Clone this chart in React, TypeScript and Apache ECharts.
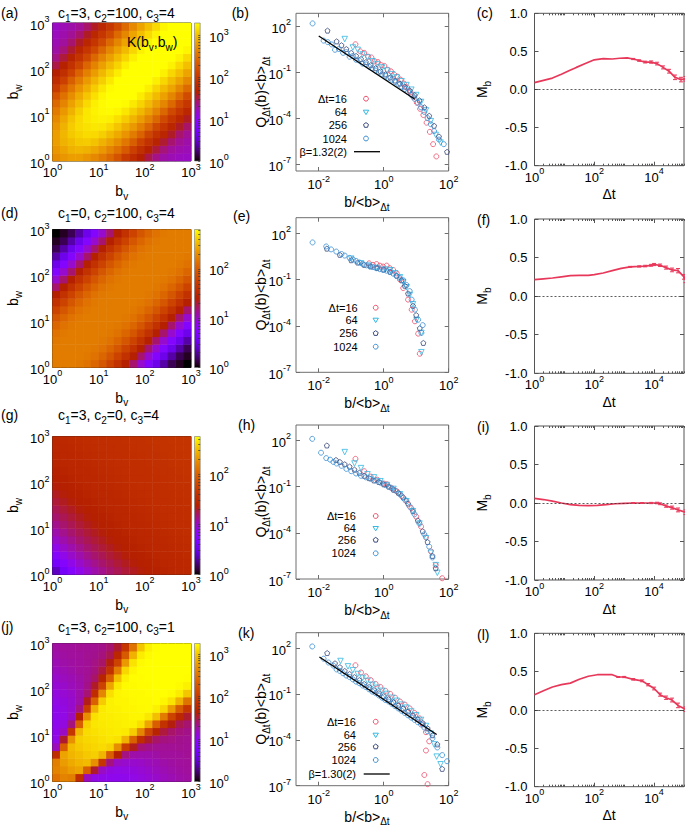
import React, { useEffect, useRef } from "react";
import * as echarts from "echarts";

const FONT = "'Liberation Sans', Arial, Helvetica, sans-serif";
const INK = "#000";
const FRAME = "#6e6e6e";
const RED = "#e8385a";

// ---------------- kernel maps: log10 K(bv,bw) on 18x18 bins (rows = bw bin, cols = bv bin) -------------
const cellCentres = ["0.083", "0.25", "0.417", "0.583", "0.75", "0.917", "1.083", "1.25", "1.417", "1.583", "1.75", "1.917", "2.083", "2.25", "2.417", "2.583", "2.75", "2.917"];
const heatTicks = [0, 1, 2, 3];

const paramsA = [3, 100, 4];
const paramsD = [0, 100, 4];
const paramsG = [3, 0, 4];
const paramsJ = [3, 100, 1];
const cbMaxA = 3.3;
const cbMaxD = 2.8;
const cbMaxG = 2.75;
const cbMaxJ = 3.25;

const kernelA = [
  [2.69, 2.76, 2.81, 2.81, 2.75, 2.68, 2.58, 2.45, 2.27, 2.03, 1.84, 1.66, 1.5, 1.36, 1.28, 1.24, 1.21, 1.19],
  [2.76, 2.85, 2.93, 2.95, 2.93, 2.86, 2.77, 2.65, 2.51, 2.33, 2.08, 1.88, 1.69, 1.53, 1.39, 1.3, 1.26, 1.23],
  [2.81, 2.93, 2.99, 3.05, 3.06, 3.02, 2.93, 2.83, 2.71, 2.56, 2.37, 2.11, 1.91, 1.72, 1.55, 1.41, 1.32, 1.27],
  [2.81, 2.95, 3.05, 3.1, 3.14, 3.13, 3.08, 2.99, 2.88, 2.75, 2.59, 2.4, 2.14, 1.93, 1.74, 1.57, 1.42, 1.32],
  [2.75, 2.93, 3.06, 3.14, 3.17, 3.2, 3.19, 3.13, 3.03, 2.91, 2.78, 2.62, 2.42, 2.16, 1.95, 1.75, 1.57, 1.43],
  [2.68, 2.86, 3.02, 3.13, 3.2, 3.23, 3.25, 3.23, 3.16, 3.06, 2.94, 2.8, 2.64, 2.44, 2.17, 1.95, 1.76, 1.58],
  [2.58, 2.77, 2.93, 3.08, 3.19, 3.25, 3.27, 3.28, 3.26, 3.19, 3.08, 2.96, 2.82, 2.65, 2.44, 2.18, 1.96, 1.76],
  [2.45, 2.65, 2.83, 2.99, 3.13, 3.23, 3.28, 3.3, 3.31, 3.28, 3.21, 3.1, 2.97, 2.82, 2.66, 2.45, 2.18, 1.97],
  [2.27, 2.51, 2.71, 2.88, 3.03, 3.16, 3.26, 3.31, 3.32, 3.33, 3.3, 3.22, 3.1, 2.98, 2.83, 2.66, 2.46, 2.19],
  [2.03, 2.33, 2.56, 2.75, 2.91, 3.06, 3.19, 3.28, 3.33, 3.34, 3.34, 3.3, 3.23, 3.11, 2.98, 2.84, 2.67, 2.46],
  [1.84, 2.08, 2.37, 2.59, 2.78, 2.94, 3.08, 3.21, 3.3, 3.34, 3.34, 3.35, 3.31, 3.23, 3.12, 2.99, 2.84, 2.68],
  [1.66, 1.88, 2.11, 2.4, 2.62, 2.8, 2.96, 3.1, 3.22, 3.3, 3.35, 3.35, 3.35, 3.32, 3.24, 3.12, 3.0, 2.85],
  [1.5, 1.69, 1.91, 2.14, 2.42, 2.64, 2.82, 2.97, 3.1, 3.23, 3.31, 3.35, 3.36, 3.36, 3.32, 3.25, 3.13, 3.0],
  [1.36, 1.53, 1.72, 1.93, 2.16, 2.44, 2.65, 2.82, 2.98, 3.11, 3.23, 3.32, 3.36, 3.36, 3.37, 3.33, 3.25, 3.13],
  [1.28, 1.39, 1.55, 1.74, 1.95, 2.17, 2.44, 2.66, 2.83, 2.98, 3.12, 3.24, 3.32, 3.37, 3.37, 3.37, 3.33, 3.26],
  [1.24, 1.3, 1.41, 1.57, 1.75, 1.95, 2.18, 2.45, 2.66, 2.84, 2.99, 3.12, 3.25, 3.33, 3.37, 3.37, 3.38, 3.34],
  [1.21, 1.26, 1.32, 1.42, 1.57, 1.76, 1.96, 2.18, 2.46, 2.67, 2.84, 3.0, 3.13, 3.25, 3.33, 3.38, 3.38, 3.38],
  [1.19, 1.23, 1.27, 1.32, 1.43, 1.58, 1.76, 1.97, 2.19, 2.46, 2.68, 2.85, 3.0, 3.13, 3.26, 3.34, 3.38, 3.38],
];
const kernelD = [
  [2.2, 2.2, 2.2, 2.18, 2.14, 2.06, 1.95, 1.79, 1.62, 1.4, 1.2, 0.98, 0.75, 0.52, 0.32, 0.15, 0.06, 0.0],
  [2.2, 2.2, 2.2, 2.2, 2.18, 2.14, 2.06, 1.95, 1.79, 1.62, 1.4, 1.2, 0.98, 0.75, 0.52, 0.32, 0.15, 0.06],
  [2.2, 2.2, 2.2, 2.2, 2.2, 2.18, 2.14, 2.06, 1.95, 1.79, 1.62, 1.4, 1.2, 0.98, 0.75, 0.52, 0.32, 0.15],
  [2.18, 2.2, 2.2, 2.2, 2.2, 2.2, 2.18, 2.14, 2.06, 1.95, 1.79, 1.62, 1.4, 1.2, 0.98, 0.75, 0.52, 0.32],
  [2.14, 2.18, 2.2, 2.2, 2.2, 2.2, 2.2, 2.18, 2.14, 2.06, 1.95, 1.79, 1.62, 1.4, 1.2, 0.98, 0.75, 0.52],
  [2.06, 2.14, 2.18, 2.2, 2.2, 2.2, 2.2, 2.2, 2.18, 2.14, 2.06, 1.95, 1.79, 1.62, 1.4, 1.2, 0.98, 0.75],
  [1.95, 2.06, 2.14, 2.18, 2.2, 2.2, 2.2, 2.2, 2.2, 2.18, 2.14, 2.06, 1.95, 1.79, 1.62, 1.4, 1.2, 0.98],
  [1.79, 1.95, 2.06, 2.14, 2.18, 2.2, 2.2, 2.2, 2.2, 2.2, 2.18, 2.14, 2.06, 1.95, 1.79, 1.62, 1.4, 1.2],
  [1.62, 1.79, 1.95, 2.06, 2.14, 2.18, 2.2, 2.2, 2.2, 2.2, 2.2, 2.18, 2.14, 2.06, 1.95, 1.79, 1.62, 1.4],
  [1.4, 1.62, 1.79, 1.95, 2.06, 2.14, 2.18, 2.2, 2.2, 2.2, 2.2, 2.2, 2.18, 2.14, 2.06, 1.95, 1.79, 1.62],
  [1.2, 1.4, 1.62, 1.79, 1.95, 2.06, 2.14, 2.18, 2.2, 2.2, 2.2, 2.2, 2.2, 2.18, 2.14, 2.06, 1.95, 1.79],
  [0.98, 1.2, 1.4, 1.62, 1.79, 1.95, 2.06, 2.14, 2.18, 2.2, 2.2, 2.2, 2.2, 2.2, 2.18, 2.14, 2.06, 1.95],
  [0.75, 0.98, 1.2, 1.4, 1.62, 1.79, 1.95, 2.06, 2.14, 2.18, 2.2, 2.2, 2.2, 2.2, 2.2, 2.18, 2.14, 2.06],
  [0.52, 0.75, 0.98, 1.2, 1.4, 1.62, 1.79, 1.95, 2.06, 2.14, 2.18, 2.2, 2.2, 2.2, 2.2, 2.2, 2.18, 2.14],
  [0.32, 0.52, 0.75, 0.98, 1.2, 1.4, 1.62, 1.79, 1.95, 2.06, 2.14, 2.18, 2.2, 2.2, 2.2, 2.2, 2.2, 2.18],
  [0.15, 0.32, 0.52, 0.75, 0.98, 1.2, 1.4, 1.62, 1.79, 1.95, 2.06, 2.14, 2.18, 2.2, 2.2, 2.2, 2.2, 2.2],
  [0.06, 0.15, 0.32, 0.52, 0.75, 0.98, 1.2, 1.4, 1.62, 1.79, 1.95, 2.06, 2.14, 2.18, 2.2, 2.2, 2.2, 2.2],
  [0.0, 0.06, 0.15, 0.32, 0.52, 0.75, 0.98, 1.2, 1.4, 1.62, 1.79, 1.95, 2.06, 2.14, 2.18, 2.2, 2.2, 2.2],
];
const kernelG = [
  [0.38, 0.6, 0.75, 0.87, 0.97, 1.05, 1.12, 1.18, 1.23, 1.28, 1.32, 1.36, 1.39, 1.41, 1.43, 1.45, 1.47, 1.48],
  [0.6, 0.75, 0.87, 0.97, 1.05, 1.12, 1.18, 1.23, 1.28, 1.32, 1.36, 1.39, 1.41, 1.43, 1.45, 1.47, 1.48, 1.49],
  [0.75, 0.87, 0.97, 1.05, 1.12, 1.18, 1.23, 1.28, 1.32, 1.36, 1.39, 1.41, 1.43, 1.45, 1.47, 1.48, 1.49, 1.5],
  [0.87, 0.97, 1.05, 1.12, 1.18, 1.23, 1.28, 1.32, 1.36, 1.39, 1.41, 1.43, 1.45, 1.47, 1.48, 1.49, 1.5, 1.52],
  [0.97, 1.05, 1.12, 1.18, 1.23, 1.28, 1.32, 1.36, 1.39, 1.41, 1.43, 1.45, 1.47, 1.48, 1.49, 1.5, 1.52, 1.53],
  [1.05, 1.12, 1.18, 1.23, 1.28, 1.32, 1.36, 1.39, 1.41, 1.43, 1.45, 1.47, 1.48, 1.49, 1.5, 1.52, 1.53, 1.54],
  [1.12, 1.18, 1.23, 1.28, 1.32, 1.36, 1.39, 1.41, 1.43, 1.45, 1.47, 1.48, 1.49, 1.5, 1.52, 1.53, 1.54, 1.55],
  [1.18, 1.23, 1.28, 1.32, 1.36, 1.39, 1.41, 1.43, 1.45, 1.47, 1.48, 1.49, 1.5, 1.52, 1.53, 1.54, 1.55, 1.56],
  [1.23, 1.28, 1.32, 1.36, 1.39, 1.41, 1.43, 1.45, 1.47, 1.48, 1.49, 1.5, 1.52, 1.53, 1.54, 1.55, 1.56, 1.56],
  [1.28, 1.32, 1.36, 1.39, 1.41, 1.43, 1.45, 1.47, 1.48, 1.49, 1.5, 1.52, 1.53, 1.54, 1.55, 1.56, 1.56, 1.57],
  [1.32, 1.36, 1.39, 1.41, 1.43, 1.45, 1.47, 1.48, 1.49, 1.5, 1.52, 1.53, 1.54, 1.55, 1.56, 1.56, 1.57, 1.58],
  [1.36, 1.39, 1.41, 1.43, 1.45, 1.47, 1.48, 1.49, 1.5, 1.52, 1.53, 1.54, 1.55, 1.56, 1.56, 1.57, 1.58, 1.58],
  [1.39, 1.41, 1.43, 1.45, 1.47, 1.48, 1.49, 1.5, 1.52, 1.53, 1.54, 1.55, 1.56, 1.56, 1.57, 1.58, 1.58, 1.59],
  [1.41, 1.43, 1.45, 1.47, 1.48, 1.49, 1.5, 1.52, 1.53, 1.54, 1.55, 1.56, 1.56, 1.57, 1.58, 1.58, 1.59, 1.6],
  [1.43, 1.45, 1.47, 1.48, 1.49, 1.5, 1.52, 1.53, 1.54, 1.55, 1.56, 1.56, 1.57, 1.58, 1.58, 1.59, 1.6, 1.6],
  [1.45, 1.47, 1.48, 1.49, 1.5, 1.52, 1.53, 1.54, 1.55, 1.56, 1.56, 1.57, 1.58, 1.58, 1.59, 1.6, 1.6, 1.61],
  [1.47, 1.48, 1.49, 1.5, 1.52, 1.53, 1.54, 1.55, 1.56, 1.56, 1.57, 1.58, 1.58, 1.59, 1.6, 1.6, 1.61, 1.62],
  [1.48, 1.49, 1.5, 1.52, 1.53, 1.54, 1.55, 1.56, 1.56, 1.57, 1.58, 1.58, 1.59, 1.6, 1.6, 1.61, 1.62, 1.62],
];
const kernelJ = [
  [2.48, 2.6, 2.57, 1.82, 1.2, 1.05, 1.03, 1.01, 1.0, 1.02, 1.05, 1.08, 1.12, 1.15, 1.19, 1.22, 1.25, 1.27],
  [2.6, 2.68, 2.76, 2.8, 2.33, 1.53, 1.17, 1.07, 1.05, 1.06, 1.09, 1.12, 1.15, 1.19, 1.22, 1.25, 1.27, 1.28],
  [2.57, 2.76, 2.84, 2.9, 2.93, 2.69, 1.92, 1.36, 1.17, 1.14, 1.14, 1.16, 1.2, 1.22, 1.25, 1.27, 1.28, 1.29],
  [1.82, 2.8, 2.9, 2.95, 3.0, 3.03, 2.91, 2.33, 1.65, 1.35, 1.25, 1.24, 1.24, 1.26, 1.28, 1.28, 1.29, 1.3],
  [1.2, 2.33, 2.93, 3.0, 3.04, 3.07, 3.09, 3.04, 2.67, 2.01, 1.57, 1.38, 1.33, 1.31, 1.3, 1.3, 1.31, 1.3],
  [1.05, 1.53, 2.69, 3.03, 3.07, 3.09, 3.12, 3.14, 3.12, 2.88, 2.35, 1.81, 1.54, 1.41, 1.36, 1.34, 1.32, 1.31],
  [1.03, 1.17, 1.92, 2.91, 3.09, 3.12, 3.14, 3.16, 3.17, 3.16, 3.02, 2.62, 2.07, 1.69, 1.5, 1.41, 1.36, 1.33],
  [1.01, 1.07, 1.36, 2.33, 3.04, 3.14, 3.16, 3.17, 3.18, 3.19, 3.19, 3.11, 2.81, 2.33, 1.88, 1.6, 1.46, 1.39],
  [1.0, 1.05, 1.17, 1.65, 2.67, 3.12, 3.17, 3.18, 3.19, 3.2, 3.21, 3.21, 3.15, 2.96, 2.55, 2.08, 1.74, 1.53],
  [1.02, 1.06, 1.14, 1.35, 2.01, 2.88, 3.16, 3.19, 3.2, 3.21, 3.21, 3.22, 3.23, 3.19, 3.07, 2.74, 2.29, 1.92],
  [1.05, 1.09, 1.14, 1.25, 1.57, 2.35, 3.02, 3.19, 3.21, 3.21, 3.22, 3.23, 3.23, 3.24, 3.21, 3.13, 2.88, 2.49],
  [1.08, 1.12, 1.16, 1.24, 1.38, 1.81, 2.62, 3.11, 3.21, 3.22, 3.23, 3.23, 3.24, 3.24, 3.25, 3.23, 3.17, 2.99],
  [1.12, 1.15, 1.2, 1.24, 1.33, 1.54, 2.07, 2.81, 3.15, 3.23, 3.23, 3.24, 3.24, 3.25, 3.25, 3.25, 3.23, 3.19],
  [1.15, 1.19, 1.22, 1.26, 1.31, 1.41, 1.69, 2.33, 2.96, 3.19, 3.24, 3.24, 3.25, 3.25, 3.25, 3.25, 3.25, 3.24],
  [1.19, 1.22, 1.25, 1.28, 1.3, 1.36, 1.5, 1.88, 2.55, 3.07, 3.21, 3.25, 3.25, 3.25, 3.25, 3.25, 3.25, 3.25],
  [1.22, 1.25, 1.27, 1.28, 1.3, 1.34, 1.41, 1.6, 2.08, 2.74, 3.13, 3.23, 3.25, 3.25, 3.25, 3.25, 3.25, 3.25],
  [1.25, 1.27, 1.28, 1.29, 1.31, 1.32, 1.36, 1.46, 1.74, 2.29, 2.88, 3.17, 3.23, 3.25, 3.25, 3.25, 3.25, 3.25],
  [1.27, 1.28, 1.29, 1.3, 1.3, 1.31, 1.33, 1.39, 1.53, 1.92, 2.49, 2.99, 3.19, 3.24, 3.25, 3.25, 3.25, 3.25],
];

// ---------------- scaled distributions: [log10 b/<b>, log10 Q<b>] -------------
const scatXTicks = [-2, 0, 2];
const scatYTicks = [-7, -4, -1, 2];
const dtLabels = ["Δt=16", "64", "256", "1024"];

const bS16 = [[-0.87, 0.81], [-0.72, 0.35], [-0.6, 0.25], [-0.48, 0.0], [-0.38, -0.05], [-0.28, -0.3], [-0.18, -0.35], [-0.08, -0.55], [0.02, -0.6], [0.12, -0.85], [0.22, -0.95], [0.32, -1.15], [0.42, -1.3], [0.52, -1.5], [0.62, -1.75], [0.72, -2.0], [0.82, -2.3], [0.92, -2.65], [1.02, -3.0], [1.12, -3.4], [1.22, -3.8], [1.32, -4.3], [1.42, -4.9], [1.52, -5.7], [1.62, -6.5]];
const bS64 = [[-1.2, 1.15], [-0.95, 0.6], [-0.8, 0.45], [-0.65, 0.15], [-0.5, -0.05], [-0.35, -0.3], [-0.2, -0.5], [-0.05, -0.7], [0.1, -0.9], [0.25, -1.15], [0.4, -1.35], [0.55, -1.6], [0.7, -1.85], [0.85, -2.15], [1.0, -2.5], [1.15, -2.95], [1.3, -3.5], [1.45, -4.2], [1.6, -5.1], [1.75, -5.6]];
const bS256 = [[-1.73, 1.7], [-1.45, 1.0], [-1.3, 0.75], [-1.15, 0.5], [-1.0, 0.25], [-0.85, 0.05], [-0.7, -0.15], [-0.55, -0.35], [-0.4, -0.55], [-0.25, -0.75], [-0.1, -0.95], [0.05, -1.15], [0.2, -1.35], [0.35, -1.55], [0.5, -1.75], [0.65, -1.95], [0.8, -2.2], [0.95, -2.5], [1.1, -2.85], [1.25, -3.3], [1.4, -3.85], [1.55, -4.5], [1.7, -5.2], [1.95, -6.2]];
const bS1024 = [[-2.19, 2.17], [-1.85, 1.05], [-1.72, 0.95], [-1.6, 0.8], [-1.5, 0.45], [-1.38, 0.5], [-1.25, 0.25], [-1.15, 0.3], [-1.05, 0.0], [-0.95, 0.05], [-0.85, -0.2], [-0.75, -0.25], [-0.65, -0.45], [-0.55, -0.5], [-0.45, -0.65], [-0.35, -0.75], [-0.25, -0.9], [-0.15, -1.0], [-0.05, -1.15], [0.05, -1.25], [0.15, -1.4], [0.25, -1.5], [0.35, -1.65], [0.45, -1.8], [0.55, -1.95], [0.65, -2.1], [0.75, -2.3], [0.85, -2.5], [0.95, -2.75], [1.05, -3.0], [1.15, -3.3], [1.25, -3.6], [1.35, -4.0], [1.45, -4.4], [1.55, -4.85], [1.7, -5.4], [1.85, -5.7]];
const bFit = [[-2.0, 1.35], [0.96, -2.77]];

const eS16 = [[-0.45, 0.05], [-0.33, -0.05], [-0.22, 0.0], [-0.12, -0.1], [-0.02, -0.16], [0.09, -0.1], [0.19, -0.27], [0.29, -0.38], [0.4, -0.6], [0.5, -1.0], [0.6, -1.55], [0.75, -2.3], [0.86, -2.95], [0.96, -3.7], [1.06, -4.5], [1.11, -5.8]];
const eS64 = [[-1.0, 0.35], [-0.7, 0.05], [-0.45, -0.1], [-0.2, -0.25], [0.05, -0.35], [0.2, -0.4], [0.35, -0.6], [0.5, -0.85], [0.6, -1.15], [0.7, -1.5], [0.8, -2.0], [0.9, -2.6], [1.01, -3.6], [1.16, -4.45], [1.16, -5.7]];
const eS256 = [[-1.75, 1.0], [-1.35, 0.6], [-1.0, 0.25], [-0.8, 0.1], [-0.6, -0.05], [-0.4, -0.15], [-0.2, -0.25], [0.0, -0.35], [0.2, -0.5], [0.4, -0.75], [0.55, -1.05], [0.65, -1.4], [0.75, -1.9], [0.9, -2.7], [1.0, -3.3], [1.11, -4.15], [1.22, -5.1]];
const eS1024 = [[-2.19, 1.4], [-1.77, 1.14], [-1.62, 0.95], [-1.46, 0.81], [-1.3, 0.65], [-1.2, 0.55], [-1.05, 0.4], [-0.95, 0.3], [-0.85, 0.2], [-0.75, 0.1], [-0.64, 0.0], [-0.53, -0.08], [-0.43, -0.15], [-0.33, -0.2], [-0.23, -0.27], [-0.12, -0.33], [-0.02, -0.38], [0.09, -0.43], [0.19, -0.5], [0.29, -0.62], [0.39, -0.76], [0.5, -0.9], [0.6, -1.05], [0.7, -1.35], [0.8, -1.75], [0.86, -2.3], [0.96, -2.95], [1.06, -3.6], [1.16, -4.45], [1.2, -3.95]];

const hS16 = [[-0.87, 0.8], [-0.6, 0.0], [-0.4, -0.35], [-0.2, -0.55], [0.0, -0.8], [0.1, -0.85], [0.25, -1.1], [0.4, -1.3], [0.55, -1.6], [0.7, -1.95], [0.85, -2.4], [1.0, -2.95], [1.15, -3.6], [1.3, -4.3], [1.45, -5.2], [1.6, -6.1], [1.8, -6.95]];
const hS64 = [[-1.2, 1.24], [-0.9, 0.5], [-0.7, 0.2], [-0.5, -0.2], [-0.3, -0.4], [-0.1, -0.65], [0.1, -0.9], [0.3, -1.15], [0.5, -1.5], [0.7, -1.95], [0.9, -2.6], [1.1, -3.4], [1.3, -4.35], [1.45, -5.3], [1.6, -6.1], [1.65, -6.6]];
const hS256 = [[-1.75, 1.67], [-1.47, 0.73], [-1.35, 0.6], [-1.2, 0.45], [-1.05, 0.3], [-0.9, 0.1], [-0.75, -0.1], [-0.6, -0.3], [-0.45, -0.45], [-0.3, -0.6], [-0.15, -0.7], [0.0, -0.85], [0.15, -1.0], [0.3, -1.2], [0.45, -1.4], [0.6, -1.7], [0.75, -2.1], [0.9, -2.6], [1.05, -3.2], [1.2, -3.9], [1.35, -4.6], [1.5, -5.5], [1.6, -6.3]];
const hS1024 = [[-2.2, 2.1], [-1.93, 1.2], [-1.77, 0.85], [-1.65, 0.75], [-1.55, 0.6], [-1.45, 0.5], [-1.3, 0.35], [-1.15, 0.15], [-1.0, 0.0], [-0.85, -0.15], [-0.7, -0.3], [-0.55, -0.4], [-0.4, -0.5], [-0.25, -0.6], [-0.1, -0.75], [0.05, -0.9], [0.2, -1.05], [0.35, -1.25], [0.5, -1.5], [0.65, -1.85], [0.8, -2.3], [0.95, -2.8], [1.1, -3.4], [1.25, -4.1], [1.4, -4.9], [1.5, -5.6]];

const kS16 = [[-0.87, 0.87], [-0.7, 0.4], [-0.55, 0.15], [-0.4, -0.1], [-0.25, -0.35], [-0.1, -0.55], [0.05, -0.8], [0.2, -1.0], [0.35, -1.25], [0.5, -1.5], [0.65, -1.7], [0.8, -1.95], [0.95, -2.25], [1.1, -2.6], [1.2, -3.0], [1.3, -3.5], [1.4, -4.1], [1.3, -4.7], [1.25, -6.3], [1.35, -6.9]];
const kS64 = [[-1.33, 1.15], [-1.1, 0.8], [-0.95, 0.55], [-0.8, 0.3], [-0.65, 0.05], [-0.5, -0.15], [-0.35, -0.4], [-0.2, -0.6], [-0.05, -0.8], [0.1, -1.0], [0.25, -1.25], [0.4, -1.45], [0.55, -1.7], [0.7, -1.9], [0.85, -2.15], [1.0, -2.4], [1.15, -2.7], [1.3, -3.1], [1.45, -3.6], [1.55, -4.3], [1.63, -5.1], [1.75, -5.6]];
const kS256 = [[-1.74, 1.67], [-1.5, 1.0], [-1.35, 0.75], [-1.2, 0.5], [-1.05, 0.3], [-0.9, 0.1], [-0.75, -0.1], [-0.6, -0.35], [-0.45, -0.55], [-0.3, -0.75], [-0.15, -0.95], [0.0, -1.15], [0.15, -1.35], [0.3, -1.55], [0.45, -1.75], [0.6, -1.95], [0.75, -2.15], [0.9, -2.4], [1.05, -2.65], [1.2, -2.9], [1.35, -3.25], [1.5, -3.7], [1.65, -4.3], [1.8, -5.9]];
const kS1024 = [[-2.2, 2.1], [-1.85, 1.3], [-1.7, 1.05], [-1.55, 0.85], [-1.45, 0.6], [-1.35, 0.5], [-1.25, 0.35], [-1.15, 0.2], [-1.05, 0.1], [-0.95, -0.05], [-0.85, -0.2], [-0.75, -0.3], [-0.65, -0.45], [-0.55, -0.55], [-0.45, -0.7], [-0.35, -0.85], [-0.25, -0.95], [-0.15, -1.1], [-0.05, -1.25], [0.05, -1.4], [0.15, -1.5], [0.25, -1.65], [0.35, -1.8], [0.45, -1.95], [0.55, -2.1], [0.65, -2.25], [0.75, -2.4], [0.85, -2.55], [0.95, -2.7], [1.05, -2.85], [1.15, -3.0], [1.25, -3.2], [1.35, -3.45], [1.5, -3.9], [1.65, -4.5], [1.8, -5.0], [1.95, -5.4]];
const kFit = [[-1.98, 1.41], [1.63, -3.65]];

// ---------------- memory coefficient M_b vs log10 Δt -------------
const mbXTicks = [0, 2, 4];
const cDt = [0, 0.3, 0.6, 0.9, 1.15, 1.4, 1.7, 2.0, 2.3, 2.6, 2.85, 3.1, 3.3, 3.5, 3.7, 3.9, 4.1, 4.3, 4.5, 4.7, 4.9, 5.05];
const cMb = [0.09, 0.12, 0.15, 0.2, 0.245, 0.29, 0.34, 0.39, 0.405, 0.4, 0.41, 0.415, 0.4, 0.38, 0.36, 0.36, 0.34, 0.29, 0.24, 0.16, 0.13, 0.14];
const cErr = [0, 0, 0, 0, 0, 0, 0, 0, 0, 0, 0, 0, 0.008, 0.01, 0.012, 0.015, 0.018, 0.02, 0.025, 0.03, 0.03, 0.03];
const fDt = [0, 0.3, 0.6, 0.9, 1.2, 1.5, 1.8, 2.0, 2.3, 2.6, 2.9, 3.2, 3.5, 3.7, 3.9, 4.0, 4.2, 4.4, 4.6, 4.8, 5.0, 5.05];
const fMb = [0.215, 0.225, 0.235, 0.25, 0.265, 0.27, 0.27, 0.28, 0.3, 0.33, 0.36, 0.38, 0.385, 0.39, 0.4, 0.41, 0.4, 0.37, 0.34, 0.33, 0.25, 0.21];
const fErr = [0, 0, 0, 0, 0, 0, 0, 0, 0, 0, 0, 0.006, 0.008, 0.01, 0.012, 0.014, 0.016, 0.02, 0.024, 0.028, 0.03, 0.035];
const iDt = [0, 0.3, 0.6, 0.9, 1.2, 1.5, 1.8, 2.1, 2.4, 2.7, 3.0, 3.3, 3.6, 3.9, 4.1, 4.2, 4.4, 4.6, 4.8, 5.05];
const iMb = [0.06, 0.045, 0.025, 0.0, -0.02, -0.03, -0.033, -0.03, -0.02, -0.01, -0.005, 0.0, 0.0, 0.0, 0.0, -0.01, -0.04, -0.06, -0.09, -0.12];
const iErr = [0, 0, 0, 0, 0, 0, 0, 0, 0, 0, 0, 0.005, 0.006, 0.008, 0.01, 0.012, 0.015, 0.02, 0.025, 0.03];
const lDt = [0, 0.3, 0.6, 0.9, 1.2, 1.5, 1.8, 2.1, 2.4, 2.6, 2.8, 3.0, 3.3, 3.6, 3.8, 4.0, 4.2, 4.4, 4.6, 4.8, 5.05];
const lMb = [0.2, 0.25, 0.3, 0.33, 0.35, 0.4, 0.44, 0.46, 0.46, 0.46, 0.43, 0.43, 0.4, 0.38, 0.33, 0.28, 0.2, 0.16, 0.13, 0.06, 0.01];
const lErr = [0, 0, 0, 0, 0, 0, 0, 0, 0, 0, 0.006, 0.008, 0.01, 0.012, 0.015, 0.018, 0.02, 0.022, 0.025, 0.03, 0.03];

// ---------------- layout -------------
const HEAT_X = 52.5, HEAT_W = 138.5, HEAT_H = 138;
const CB_X = 194.5, CB_W = 5.7;
const SC_X = 296, SC_W = 152.7;
const MB_X = 534.5, MB_W = 149.5;

const HEAT_PANELS = [
  { rows: kernelA, cbMax: cbMaxA, params: paramsA, top: 23, letter: "(a)", letterY: 13.3, titleY: 13.3, kLabel: true },
  { rows: kernelD, cbMax: cbMaxD, params: paramsD, top: 229.5, letter: "(d)", letterY: 213.3, titleY: 213.3, kLabel: false },
  { rows: kernelG, cbMax: cbMaxG, params: paramsG, top: 436.5, letter: "(g)", letterY: 415, titleY: 415, kLabel: false },
  { rows: kernelJ, cbMax: cbMaxJ, params: paramsJ, top: 643.5, letter: "(j)", letterY: 626.7, titleY: 626.7, kLabel: false },
];
const SCAT_PANELS = [
  { sets: [bS16, bS64, bS256, bS1024], fit: bFit, fitLabel: "β=1.32(2)", top: 13.3, h: 157.7, ymin: -7.45, ymax: 2.83, letter: "(b)", lx: 231.7, ly: 13.3, legText: 347, legSym: 366, legY: [98.7, 112, 125.2, 138.5, 151.7] },
  { sets: [eS16, eS64, eS256, eS1024], fit: null, fitLabel: "", top: 217.7, h: 154.6, ymin: -7, ymax: 3, letter: "(e)", lx: 233, ly: 216, legText: 357.7, legSym: 375.7, legY: [307.7, 320, 333.3, 346.7] },
  { sets: [hS16, hS64, hS256, hS1024], fit: null, fitLabel: "", top: 425, h: 154, ymin: -7, ymax: 3, letter: "(h)", lx: 238, ly: 425, legText: 356, legSym: 375.7, legY: [516, 528.3, 540, 553.3] },
  { sets: [kS16, kS64, kS256, kS1024], fit: kFit, fitLabel: "β=1.30(2)", top: 632.7, h: 153, ymin: -7, ymax: 3, letter: "(k)", lx: 238, ly: 633, legText: 356, legSym: 375.7, legY: [721.7, 735, 746.7, 760, 774] },
];
const MB_PANELS = [
  { dt: cDt, mb: cMb, err: cErr, top: 13.3, h: 152.4, letter: "(c)", lx: 476.7, ly: 13.3 },
  { dt: fDt, mb: fMb, err: fErr, top: 219, h: 154.3, letter: "(f)", lx: 477, ly: 220 },
  { dt: iDt, mb: iMb, err: iErr, top: 426, h: 154, letter: "(i)", lx: 477, ly: 426.7 },
  { dt: lDt, mb: lMb, err: lErr, top: 633.3, h: 153.4, letter: "(l)", lx: 477, ly: 635 },
];

const SERIES_STYLE = [
  { color: "#ec4d6a", symbol: "circle", rotate: 0 },
  { color: "#33b8e2", symbol: "triangle", rotate: 180 },
  { color: "#3b4a7c", symbol: "path://M0,-1L0.951,-0.309L0.588,0.809L-0.588,0.809L-0.951,-0.309Z", rotate: 0 },
  { color: "#3a8fd4", symbol: "circle", rotate: 0 },
];

// gnuplot rgbformulae 7,5,15
function pal(t: number) {
  const c = (v: number) => Math.round(255 * Math.min(1, Math.max(0, v)));
  return `rgb(${c(Math.sqrt(t))},${c(t * t * t)},${c(Math.sin(2 * Math.PI * t))})`;
}
const PALETTE = Array.from({ length: 49 }, (_, i) => pal(i / 48));

const TICK_RICH = {
  b: { fontFamily: FONT, fontSize: 13, color: INK, lineHeight: 17, verticalAlign: "bottom" },
  s: { fontFamily: FONT, fontSize: 9, color: INK, lineHeight: 9, verticalAlign: "top" },
};
const pow10 = (v: number) => `{b|10}{s|${Math.round(v)}}`;

const NAME_RICH = {
  m: { fontSize: 14, fontFamily: FONT, fill: INK, color: INK, lineHeight: 17, verticalAlign: "top" },
  d: { fontSize: 10, fontFamily: FONT, fill: INK, color: INK, lineHeight: 17, verticalAlign: "bottom" },
};

function text(x: number, y: number, str: string, o: any = {}) {
  const size = o.size || 14;
  const align = o.align || "left";
  const va = o.va || "middle";
  return {
    type: "text",
    x,
    y,
    rotation: o.rot || 0,
    z: 100,
    style: {
      text: str,
      fill: INK,
      font: `${size}px ${FONT}`,
      fontSize: size,
      fontFamily: FONT,
      align,
      textAlign: align,
      verticalAlign: va,
      textVerticalAlign: va,
      rich: o.rich,
    },
  };
}
// rich text whose main glyph centre is at (cx, cy)
function richText(cx: number, cy: number, str: string, align = "center", rot = false) {
  if (rot) return text(cx - 7, cy, str, { rich: NAME_RICH, align, va: "top", rot: Math.PI / 2 });
  return text(cx, cy - 7, str, { rich: NAME_RICH, align, va: "top" });
}

function buildOption() {
  const grid: any[] = [], xAxis: any[] = [], yAxis: any[] = [], series: any[] = [], visualMap: any[] = [], graphic: any[] = [];
  const addGrid = (l: number, t: number, w: number, h: number, extra: any = {}) =>
    grid.push({ left: l, top: t, width: w, height: h, ...extra }) - 1;
  const addX = (o: any) => xAxis.push(o) - 1;
  const addY = (o: any) => yAxis.push(o) - 1;
  const bare = { axisLine: { show: false, onZero: false }, splitLine: { show: false } };

  // ---------- heatmaps ----------
  HEAT_PANELS.forEach((p) => {
    const g = addGrid(HEAT_X, p.top, HEAT_W, HEAT_H, { show: true, borderColor: "#222", borderWidth: 1, backgroundColor: "transparent" });
    const cx = addX({ gridIndex: g, type: "category", data: cellCentres, show: false, position: "top" });
    addX({
      gridIndex: g, type: "value", min: 0, max: 3, position: "bottom", ...bare,
      axisTick: { show: false },
      axisLabel: { customValues: heatTicks, formatter: pow10, rich: TICK_RICH, margin: 1 },
    });
    const cy = addY({ gridIndex: g, type: "category", data: cellCentres, show: false, position: "right" });
    addY({
      gridIndex: g, type: "value", min: 0, max: 3, position: "left", ...bare,
      axisTick: { show: false },
      axisLabel: { customValues: heatTicks, formatter: pow10, rich: TICK_RICH, margin: 3 },
    });
    const data: any[] = [];
    p.rows.forEach((row, j) => row.forEach((v, i) => data.push([i, j, v])));
    const si = series.push({ type: "heatmap", xAxisIndex: cx, yAxisIndex: cy, data, itemStyle: { borderWidth: 0 } }) - 1;
    visualMap.push({ type: "continuous", show: false, min: 0, max: p.cbMax, dimension: 2, seriesIndex: si, inRange: { color: PALETTE } });

    // colour box
    const grad = new echarts.graphic.LinearGradient(0, 1, 0, 0, PALETTE.map((c, i) => ({ offset: i / (PALETTE.length - 1), color: c })));
    const cg = addGrid(CB_X, p.top, CB_W, HEAT_H, { show: true, backgroundColor: grad, borderColor: "#777", borderWidth: 0.6 });
    addX({ gridIndex: cg, type: "value", min: 0, max: 1, show: false });
    const minor: number[] = [];
    for (let d = 0; d <= 3; d++) for (let k = 1; k <= 9; k++) {
      const v = d + Math.log10(k);
      if (v <= p.cbMax) minor.push(v);
    }
    addY({
      gridIndex: cg, type: "value", min: 0, max: p.cbMax, position: "right", ...bare, z: 10,
      axisTick: { inside: true, length: 2, customValues: minor, lineStyle: { color: "#333", width: 0.7 } },
      axisLabel: { customValues: heatTicks.filter((t) => t <= p.cbMax), formatter: pow10, rich: TICK_RICH, margin: 9 },
    });

    // texts
    graphic.push(text(1, p.letterY, p.letter));
    graphic.push(richText(58, p.titleY, `{m|c}{d|1}{m|=${p.params[0]}, c}{d|2}{m|=${p.params[1]}, c}{d|3}{m|=${p.params[2]}}`, "left"));
    graphic.push(richText(HEAT_X + HEAT_W / 2, p.top + HEAT_H + 30, "{m|b}{d|v}"));
    graphic.push(richText(13, p.top + HEAT_H / 2, "{m|b}{d|w}", "center", true));
    if (p.kLabel) graphic.push(richText(127, 42, "{m|K(b}{d|v}{m|,b}{d|w}{m|)}", "left"));
  });

  // ---------- scaled distributions ----------
  SCAT_PANELS.forEach((p) => {
    const g = addGrid(SC_X, p.top, SC_W, p.h, { show: true, borderColor: FRAME, borderWidth: 1 });
    const tickX = { inside: true, length: 4, customValues: scatXTicks, lineStyle: { color: FRAME } };
    const tickY = { inside: true, length: 4, customValues: scatYTicks, lineStyle: { color: FRAME } };
    const xb = addX({ gridIndex: g, type: "value", min: -2.7, max: 2, position: "bottom", ...bare, axisTick: tickX, axisLabel: { customValues: scatXTicks, formatter: pow10, rich: TICK_RICH, margin: 3 } });
    addX({ gridIndex: g, type: "value", min: -2.7, max: 2, position: "top", ...bare, axisTick: tickX, axisLabel: { show: false } });
    const yl = addY({ gridIndex: g, type: "value", min: p.ymin, max: p.ymax, position: "left", ...bare, axisTick: tickY, axisLabel: { customValues: scatYTicks, formatter: pow10, rich: TICK_RICH, margin: 5 } });
    addY({ gridIndex: g, type: "value", min: p.ymin, max: p.ymax, position: "right", ...bare, axisTick: tickY, axisLabel: { show: false } });
    p.sets.forEach((set, k) => {
      const st = SERIES_STYLE[k];
      series.push({
        type: "scatter", name: dtLabels[k], xAxisIndex: xb, yAxisIndex: yl, data: set,
        symbol: st.symbol, symbolRotate: st.rotate, symbolSize: k === 1 ? 5.5 : 5,
        itemStyle: { color: "rgba(255,255,255,0)", borderColor: st.color, borderWidth: 1 },
        z: 3 + k,
      });
    });
    if (p.fit) {
      series.push({ type: "line", xAxisIndex: xb, yAxisIndex: yl, data: p.fit, showSymbol: false, lineStyle: { color: "#000", width: 1.3 }, z: 8 });
    }
    // texts
    graphic.push(text(p.lx, p.ly, p.letter));
    graphic.push(richText(367, p.top + p.h + 31, "{m|b/<b>}{d|Δt}"));
    graphic.push(richText(261, p.top + p.h / 2, "{m|Q}{d|Δt}{m|(b)<b>}{d|Δt}", "center", true));
    // key
    const labels = p.fit ? [...dtLabels, p.fitLabel] : dtLabels;
    labels.forEach((lab, k) => {
      const y = p.legY[k];
      graphic.push(text(p.legText, y, lab, { size: 11, align: "right" }));
      const sx = p.legSym;
      if (k === 4) {
        graphic.push({ type: "line", z: 100, shape: { x1: sx - 12, y1: y, x2: sx + 14, y2: y }, style: { stroke: "#000", lineWidth: 1.3 } });
        return;
      }
      const col = SERIES_STYLE[k].color;
      const sty = { fill: "none", stroke: col, lineWidth: 1 };
      if (k === 0 || k === 3) graphic.push({ type: "circle", z: 100, shape: { cx: sx, cy: y, r: 2.4 }, style: sty });
      if (k === 1) graphic.push({ type: "polygon", z: 100, shape: { points: [[sx - 2.7, y - 1.8], [sx + 2.7, y - 1.8], [sx, y + 2.6]] }, style: sty });
      if (k === 2) {
        const pts: number[][] = [];
        for (let q = 0; q < 5; q++) {
          const a = -Math.PI / 2 + (q * 2 * Math.PI) / 5;
          pts.push([sx + 2.6 * Math.cos(a), y + 2.6 * Math.sin(a)]);
        }
        graphic.push({ type: "polygon", z: 100, shape: { points: pts }, style: sty });
      }
    });
  });

  // ---------- M_b panels ----------
  const minorDec: number[] = [];
  for (let d = 0; d < 5; d++) for (let k = 2; k <= 10; k++) {
    const v = d + Math.log10(k);
    if (mbXTicks.indexOf(Math.round(v * 1000) / 1000) < 0) minorDec.push(v);
  }
  MB_PANELS.forEach((p) => {
    const g = addGrid(MB_X, p.top, MB_W, p.h, { show: true, borderColor: "#555", borderWidth: 1 });
    const tickX = { inside: true, length: 4, customValues: mbXTicks, lineStyle: { color: "#555" } };
    const tickY = { inside: true, length: 4, lineStyle: { color: "#555" } };
    const xb = addX({ gridIndex: g, type: "value", min: 0, max: 5, position: "bottom", ...bare, axisTick: tickX, axisLabel: { customValues: mbXTicks, formatter: pow10, rich: TICK_RICH, margin: 1 } });
    addX({ gridIndex: g, type: "value", min: 0, max: 5, position: "top", ...bare, axisTick: tickX, axisLabel: { show: false } });
    const yl = addY({ gridIndex: g, type: "value", min: -1, max: 1, interval: 0.5, position: "left", ...bare, axisTick: tickY, axisLabel: { formatter: (v: number) => v.toFixed(1), fontFamily: FONT, fontSize: 13, color: INK, margin: 7 } });
    addY({ gridIndex: g, type: "value", min: -1, max: 1, interval: 0.5, position: "right", ...bare, axisTick: tickY, axisLabel: { show: false } });
    // minor ticks overlay
    const g2 = addGrid(MB_X, p.top, MB_W, p.h);
    const tickM = { inside: true, length: 2, customValues: minorDec, lineStyle: { color: "#555" } };
    addX({ gridIndex: g2, type: "value", min: 0, max: 5, position: "bottom", ...bare, axisTick: tickM, axisLabel: { show: false } });
    addX({ gridIndex: g2, type: "value", min: 0, max: 5, position: "top", ...bare, axisTick: tickM, axisLabel: { show: false } });
    addY({ gridIndex: g2, type: "value", min: -1, max: 1, show: false });

    const pts = p.dt.map((x, i) => [x, p.mb[i]]);
    series.push({
      type: "line", xAxisIndex: xb, yAxisIndex: yl, data: pts, showSymbol: false,
      lineStyle: { color: RED, width: 1.7 },
      markLine: { silent: true, symbol: "none", label: { show: false }, lineStyle: { color: "#333", type: [2, 2], width: 0.8 }, data: [{ yAxis: 0 }] },
      z: 4,
    });
    const errs = p.dt.map((x, i) => [x, p.mb[i], p.err[i]]).filter((d) => d[2] > 0);
    series.push({
      type: "custom", xAxisIndex: xb, yAxisIndex: yl, data: errs, encode: { x: 0, y: 1 }, z: 5,
      renderItem: (params: any, api: any) => {
        const x = api.value(0), y = api.value(1), e = api.value(2);
        const lo = api.coord([x, y - e]);
        const hi = api.coord([x, y + e]);
        const st = { stroke: RED, lineWidth: 1 };
        return {
          type: "group",
          children: [
            { type: "line", shape: { x1: lo[0], y1: lo[1], x2: hi[0], y2: hi[1] }, style: st },
            { type: "line", shape: { x1: lo[0] - 2, y1: lo[1], x2: lo[0] + 2, y2: lo[1] }, style: st },
            { type: "line", shape: { x1: hi[0] - 2, y1: hi[1], x2: hi[0] + 2, y2: hi[1] }, style: st },
          ],
        };
      },
    });
    graphic.push(text(p.lx, p.ly, p.letter));
    graphic.push(text(609, p.top + p.h + 28.6, "Δt", { align: "center" }));
    graphic.push(richText(482, p.top + p.h / 2, "{m|M}{d|b}", "center", true));
  });

  return { animation: false, backgroundColor: "#fff", grid, xAxis, yAxis, series, visualMap, graphic };
}

export default function App() {
  const ref = useRef<HTMLDivElement>(null);
  useEffect(() => {
    const chart = echarts.init(ref.current as HTMLDivElement, null, { renderer: "svg" });
    chart.setOption(buildOption() as any);
    return () => chart.dispose();
  }, []);
  return <div ref={ref} style={{ position: "fixed", left: 0, top: 0, width: 685, height: 829, background: "#fff" }} />;
}
